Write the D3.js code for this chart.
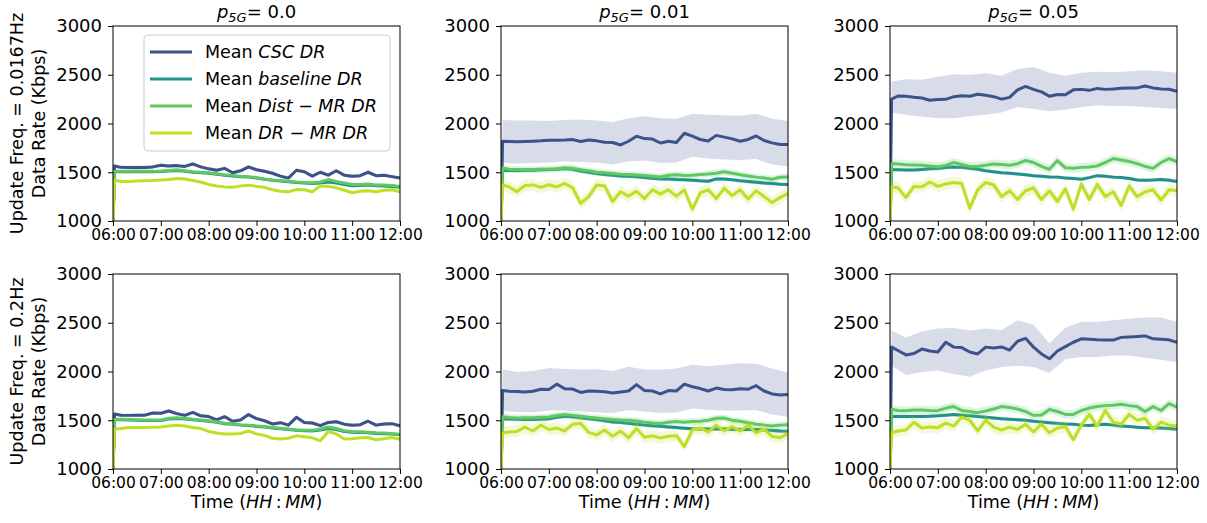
<!DOCTYPE html>
<html>
<head>
<meta charset="utf-8">
<script src="https://cdn.jsdelivr.net/npm/d3@7"></script>
<style>
body { margin: 0; background: #fff; }
text { font-family: "DejaVu Sans", sans-serif; fill: #000; }
</style>
</head>
<body>
<div id="chart"></div>
<script>
// sample times, minutes after 06:00
var minutes = [0, 2, 10, 20, 30, 40, 50, 60, 70, 80, 90, 100, 110, 120, 130, 140, 150, 160, 170, 180,
  190, 200, 210, 220, 230, 240, 250, 260, 270, 280, 290, 300, 310, 320, 330, 340, 350, 360];
// band sample times (CSC spread)
var bandMinutes = [0, 2, 20, 40, 60, 80, 100, 120, 140, 160, 180, 200, 220, 240, 260, 280, 300, 320, 340, 360];

var tickMinutes = [0, 60, 120, 180, 240, 300, 360];
var timeTicks = ["06:00", "07:00", "08:00", "09:00", "10:00", "11:00", "12:00"];
var rateTicks = [1000, 1500, 2000, 2500, 3000];
var pValues = ["0.0", "0.01", "0.05"];
var rowLabels = ["Update Freq. = 0.0167Hz", "Update Freq. = 0.2Hz"];
var seriesNames = [["Mean ", "CSC DR"], ["Mean ", "baseline DR"], ["Mean ", "Dist \u2212 MR DR"], ["Mean ", "DR \u2212 MR DR"]];
var seriesColors = ["#3b528b", "#21918c", "#5ec962", "#bddf26"];

// ---- Update freq 0.0167Hz ----
var slow_p0_csc = [1000, 1565, 1550, 1548, 1550, 1548, 1555, 1572, 1565, 1568, 1560, 1585, 1555, 1535, 1520, 1540, 1495, 1515, 1555, 1525,
  1510, 1490, 1460, 1440, 1520, 1505, 1460, 1500, 1470, 1515, 1470, 1460, 1465, 1500, 1465, 1470, 1455, 1440];
var slow_p0_base = [1000, 1505, 1505, 1505, 1508, 1505, 1505, 1508, 1512, 1518, 1510, 1500, 1495, 1490, 1480, 1470, 1462, 1455, 1450, 1440,
  1428, 1418, 1410, 1403, 1395, 1390, 1385, 1390, 1400, 1390, 1375, 1362, 1365, 1370, 1362, 1360, 1355, 1345];
var slow_p0_dist = [1000, 1510, 1510, 1510, 1512, 1510, 1510, 1512, 1518, 1525, 1515, 1505, 1500, 1495, 1485, 1475, 1468, 1460, 1455, 1445,
  1430, 1420, 1415, 1408, 1400, 1395, 1393, 1400, 1425, 1405, 1390, 1375, 1375, 1380, 1370, 1370, 1365, 1355];
var slow_p0_drmr = [1000, 1420, 1405, 1405, 1410, 1412, 1415, 1420, 1425, 1435, 1430, 1415, 1400, 1375, 1360, 1350, 1345, 1358, 1368, 1355,
  1345, 1320, 1305, 1300, 1322, 1320, 1300, 1360, 1355, 1340, 1315, 1290, 1305, 1310, 1300, 1315, 1320, 1300];

var slow_p1_csc = [1000, 1818, 1815, 1812, 1815, 1818, 1822, 1828, 1828, 1830, 1835, 1815, 1830, 1822, 1808, 1805, 1780, 1818, 1870, 1845,
  1840, 1800, 1818, 1805, 1900, 1870, 1836, 1820, 1878, 1860, 1842, 1818, 1836, 1872, 1825, 1801, 1785, 1784];
var slow_p1_csc_hi = [1000, 2035, 2030, 2030, 2025, 2035, 2040, 2030, 2015, 2055, 2075, 2055, 2050, 2100, 2090, 2085, 2080, 2100, 2050, 2025];
var slow_p1_csc_lo = [1000, 1595, 1590, 1595, 1600, 1610, 1605, 1600, 1580, 1610, 1620, 1595, 1600, 1660, 1640, 1630, 1625, 1635, 1580, 1560];
var slow_p1_base = [1000, 1517, 1518, 1518, 1520, 1520, 1525, 1528, 1532, 1538, 1530, 1512, 1500, 1488, 1478, 1468, 1462, 1460, 1455, 1445,
  1438, 1432, 1430, 1426, 1424, 1418, 1412, 1408, 1432, 1430, 1422, 1412, 1405, 1398, 1390, 1385, 1378, 1375];
var slow_p1_dist = [1000, 1545, 1530, 1528, 1527, 1527, 1530, 1530, 1535, 1545, 1540, 1525, 1515, 1500, 1495, 1488, 1480, 1476, 1472, 1466,
  1460, 1452, 1470, 1475, 1466, 1470, 1476, 1482, 1490, 1505, 1490, 1475, 1462, 1450, 1440, 1428, 1448, 1452];
var slow_p1_drmr = [1000, 1370, 1350, 1300, 1365, 1370, 1345, 1372, 1350, 1385, 1340, 1180, 1250, 1370, 1360, 1200, 1300, 1255, 1305, 1230,
  1320, 1275, 1320, 1255, 1320, 1120, 1290, 1320, 1230, 1335, 1260, 1320, 1225, 1310, 1250, 1190, 1240, 1285];

var slow_p5_csc = [1000, 2250, 2282, 2280, 2270, 2262, 2238, 2245, 2248, 2275, 2285, 2280, 2300, 2290, 2275, 2250, 2268, 2345, 2380, 2350,
  2325, 2280, 2298, 2295, 2345, 2350, 2340, 2360, 2350, 2355, 2362, 2363, 2365, 2385, 2365, 2355, 2352, 2330];
var slow_p5_csc_hi = [1000, 2430, 2455, 2450, 2480, 2505, 2500, 2515, 2490, 2560, 2580, 2520, 2490, 2520, 2530, 2525, 2535, 2545, 2535, 2520];
var slow_p5_csc_lo = [1000, 2110, 2090, 2070, 2055, 2055, 2075, 2090, 2112, 2170, 2150, 2125, 2140, 2170, 2185, 2180, 2180, 2170, 2160, 2150];
var slow_p5_base = [1000, 1525, 1525, 1524, 1522, 1528, 1535, 1540, 1548, 1555, 1550, 1540, 1530, 1515, 1505, 1495, 1490, 1482, 1475, 1465,
  1458, 1452, 1450, 1440, 1435, 1428, 1445, 1465, 1460, 1450, 1445, 1435, 1420, 1418, 1420, 1425, 1418, 1405];
var slow_p5_dist = [1000, 1590, 1585, 1578, 1575, 1572, 1565, 1556, 1570, 1600, 1580, 1560, 1560, 1572, 1585, 1580, 1572, 1588, 1620, 1600,
  1560, 1530, 1620, 1545, 1540, 1550, 1555, 1565, 1600, 1640, 1625, 1610, 1588, 1560, 1540, 1600, 1640, 1610];
var slow_p5_drmr = [1000, 1350, 1340, 1240, 1355, 1350, 1400, 1355, 1380, 1395, 1385, 1130, 1320, 1395, 1370, 1250, 1310, 1220, 1310, 1340,
  1220, 1310, 1200, 1330, 1120, 1380, 1220, 1375, 1250, 1300, 1160, 1360, 1250, 1300, 1320, 1215, 1320, 1310];

// ---- Update freq 0.2Hz ----
var fast_p0_csc = [1000, 1565, 1552, 1550, 1552, 1552, 1575, 1572, 1595, 1568, 1550, 1580, 1545, 1538, 1503, 1537, 1490, 1503, 1558, 1517,
  1495, 1462, 1475, 1450, 1530, 1476, 1472, 1445, 1478, 1485, 1460, 1449, 1455, 1490, 1450, 1462, 1465, 1442];
var fast_p0_base = [1000, 1505, 1505, 1503, 1500, 1498, 1498, 1498, 1512, 1518, 1512, 1505, 1498, 1490, 1480, 1465, 1460, 1450, 1445, 1437,
  1430, 1420, 1412, 1405, 1397, 1392, 1390, 1400, 1415, 1405, 1385, 1378, 1375, 1372, 1365, 1362, 1358, 1352];
var fast_p0_dist = [1000, 1510, 1510, 1508, 1505, 1503, 1503, 1503, 1520, 1525, 1518, 1510, 1503, 1495, 1485, 1470, 1465, 1455, 1450, 1442,
  1435, 1425, 1418, 1410, 1402, 1398, 1398, 1410, 1430, 1415, 1392, 1385, 1382, 1378, 1372, 1368, 1362, 1357];
var fast_p0_drmr = [1000, 1410, 1415, 1425, 1425, 1425, 1428, 1432, 1440, 1448, 1440, 1425, 1415, 1385, 1370, 1358, 1360, 1365, 1390, 1360,
  1345, 1315, 1308, 1315, 1340, 1330, 1320, 1290, 1385, 1360, 1308, 1310, 1320, 1322, 1300, 1310, 1322, 1305];

var fast_p1_csc = [1000, 1805, 1798, 1795, 1790, 1798, 1818, 1816, 1870, 1823, 1820, 1785, 1800, 1798, 1792, 1780, 1790, 1800, 1865, 1805,
  1800, 1770, 1805, 1800, 1870, 1844, 1825, 1800, 1830, 1815, 1812, 1823, 1818, 1855, 1800, 1770, 1758, 1765];
var fast_p1_csc_hi = [1000, 2020, 1995, 2005, 2035, 2025, 2020, 2022, 2005, 2050, 2020, 2020, 2030, 2070, 2055, 2070, 2085, 2080, 2030, 1990];
var fast_p1_csc_lo = [1000, 1595, 1585, 1582, 1600, 1600, 1590, 1582, 1575, 1605, 1590, 1575, 1580, 1620, 1608, 1600, 1600, 1605, 1560, 1535];
var fast_p1_base = [1000, 1514, 1512, 1510, 1508, 1507, 1510, 1515, 1530, 1540, 1535, 1525, 1515, 1507, 1495, 1482, 1478, 1468, 1460, 1450,
  1443, 1438, 1432, 1425, 1418, 1412, 1410, 1410, 1412, 1410, 1408, 1405, 1405, 1404, 1400, 1395, 1390, 1387];
var fast_p1_dist = [1000, 1535, 1528, 1524, 1525, 1525, 1530, 1534, 1548, 1558, 1550, 1540, 1530, 1524, 1515, 1508, 1502, 1500, 1492, 1480,
  1472, 1466, 1480, 1488, 1480, 1488, 1490, 1500, 1520, 1522, 1500, 1490, 1475, 1460, 1450, 1440, 1450, 1455];
var fast_p1_drmr = [1000, 1370, 1380, 1385, 1430, 1390, 1450, 1405, 1420, 1390, 1460, 1470, 1375, 1350, 1400, 1335, 1390, 1320, 1415, 1325,
  1340, 1318, 1335, 1342, 1230, 1400, 1420, 1380, 1450, 1390, 1435, 1390, 1450, 1370, 1410, 1335, 1320, 1365];

var fast_p5_csc = [1000, 2250, 2215, 2170, 2185, 2230, 2210, 2200, 2300, 2250, 2245, 2200, 2180, 2250, 2240, 2252, 2220, 2310, 2340, 2250,
  2180, 2130, 2210, 2255, 2300, 2335, 2330, 2325, 2322, 2322, 2350, 2355, 2358, 2365, 2335, 2330, 2325, 2300];
var fast_p5_csc_hi = [1000, 2420, 2350, 2410, 2440, 2445, 2420, 2440, 2425, 2525, 2480, 2290, 2450, 2510, 2510, 2525, 2540, 2555, 2555, 2510];
var fast_p5_csc_lo = [1000, 2060, 1965, 1995, 2010, 1975, 1945, 2010, 2045, 2060, 2045, 1985, 2125, 2148, 2150, 2165, 2165, 2140, 2120, 2095];
var fast_p5_base = [1000, 1538, 1538, 1538, 1538, 1538, 1540, 1545, 1552, 1560, 1552, 1545, 1538, 1530, 1522, 1515, 1510, 1505, 1500, 1490,
  1483, 1475, 1468, 1462, 1458, 1450, 1445, 1455, 1458, 1450, 1442, 1435, 1428, 1424, 1424, 1420, 1415, 1407];
var fast_p5_dist = [1000, 1612, 1600, 1598, 1605, 1605, 1600, 1598, 1625, 1640, 1600, 1590, 1578, 1595, 1615, 1640, 1630, 1615, 1590, 1550,
  1555, 1610, 1590, 1560, 1560, 1600, 1625, 1640, 1650, 1655, 1665, 1650, 1640, 1590, 1640, 1600, 1670, 1635];
var fast_p5_drmr = [1000, 1372, 1390, 1400, 1480, 1420, 1430, 1424, 1470, 1440, 1530, 1500, 1390, 1500, 1430, 1400, 1430, 1405, 1460, 1380,
  1460, 1372, 1420, 1435, 1300, 1450, 1560, 1441, 1600, 1480, 1460, 1560, 1500, 1520, 1410, 1480, 1450, 1441];

// half width of the light bands [csc, baseline, dist-mr, dr-mr]
var spread_p0 = [18, 8, 8, 8];
var spread_p1 = [0, 20, 35, 60];
var spread_p5 = [0, 18, 45, 60];

var panels = [
  { row: 0, col: 0, lines: [slow_p0_csc, slow_p0_base, slow_p0_dist, slow_p0_drmr], hi: null, lo: null, spread: spread_p0 },
  { row: 0, col: 1, lines: [slow_p1_csc, slow_p1_base, slow_p1_dist, slow_p1_drmr], hi: slow_p1_csc_hi, lo: slow_p1_csc_lo, spread: spread_p1 },
  { row: 0, col: 2, lines: [slow_p5_csc, slow_p5_base, slow_p5_dist, slow_p5_drmr], hi: slow_p5_csc_hi, lo: slow_p5_csc_lo, spread: spread_p5 },
  { row: 1, col: 0, lines: [fast_p0_csc, fast_p0_base, fast_p0_dist, fast_p0_drmr], hi: null, lo: null, spread: spread_p0 },
  { row: 1, col: 1, lines: [fast_p1_csc, fast_p1_base, fast_p1_dist, fast_p1_drmr], hi: fast_p1_csc_hi, lo: fast_p1_csc_lo, spread: spread_p1 },
  { row: 1, col: 2, lines: [fast_p5_csc, fast_p5_base, fast_p5_dist, fast_p5_drmr], hi: fast_p5_csc_hi, lo: fast_p5_csc_lo, spread: spread_p5 }
];

var W = 1207, H = 523;
var colLeft = [113, 501, 890], rowTop = [26, 274];
var pw = 287, ph = 195;

var svg = d3.select("#chart").append("svg")
  .attr("width", W)
  .attr("height", H);

var x = d3.scaleLinear().domain([0, 360]).range([0, pw]);
var y = d3.scaleLinear().domain([1000, 3000]).range([ph, 0]);

var line = d3.line()
  .x(function (d) { return x(d[0]); })
  .y(function (d) { return y(d[1]); });
var area = d3.area()
  .x(function (d) { return x(d[0]); })
  .y0(function (d) { return y(d[1]); })
  .y1(function (d) { return y(d[2]); });

panels.forEach(function (p, k) {
  var g = svg.append("g")
    .attr("transform", "translate(" + colLeft[p.col] + "," + rowTop[p.row] + ")");

  g.append("clipPath").attr("id", "clip" + k)
    .append("rect").attr("width", pw).attr("height", ph);
  var plot = g.append("g").attr("clip-path", "url(#clip" + k + ")");

  p.lines.forEach(function (vals, s) {
    var band;
    if (s === 0 && p.hi) {
      band = bandMinutes.map(function (m, i) { return [m, p.lo[i], p.hi[i]]; });
    } else {
      band = minutes.map(function (m, i) { return [m, vals[i] - p.spread[s], vals[i] + p.spread[s]]; });
    }
    plot.append("path")
      .attr("d", area(band))
      .style("fill", seriesColors[s])
      .style("fill-opacity", 0.2)
      .style("stroke", "none");
    plot.append("path")
      .attr("d", line(minutes.map(function (m, i) { return [m, vals[i]]; })))
      .style("fill", "none")
      .style("stroke", seriesColors[s])
      .style("stroke-width", 3)
      .style("stroke-linejoin", "round");
  });

  var xa = g.append("g")
    .attr("transform", "translate(0," + ph + ")")
    .call(d3.axisBottom(x).tickValues(tickMinutes)
      .tickFormat(function (d, i) { return timeTicks[i]; })
      .tickSize(5).tickPadding(3));
  xa.selectAll("text").style("font-size", "15.5px").style("font-family", "DejaVu Sans");

  var ya = g.append("g")
    .call(d3.axisLeft(y).tickValues(rateTicks).tickFormat(d3.format("d"))
      .tickSize(5).tickPadding(6));
  ya.selectAll("text").style("font-size", "18px").style("font-family", "DejaVu Sans");

  g.selectAll(".domain").remove();
  g.selectAll(".tick line").style("stroke", "#000");

  g.append("rect")
    .attr("width", pw).attr("height", ph)
    .style("fill", "none").style("stroke", "#000").style("stroke-width", 1);

  if (p.row === 0) {
    var t = g.append("text")
      .attr("x", pw / 2).attr("y", -8)
      .attr("text-anchor", "middle")
      .style("font-size", "18px");
    t.append("tspan").style("font-style", "italic").text("p");
    t.append("tspan").style("font-style", "italic").style("font-size", "13px")
      .attr("dy", 4).text("5G");
    t.append("tspan").attr("dy", -4).text("= " + pValues[p.col]);
  } else {
    var xl = g.append("text")
      .attr("x", pw / 2).attr("y", ph + 39)
      .attr("text-anchor", "middle")
      .style("font-size", "17.5px");
    xl.append("tspan").text("Time (");
    xl.append("tspan").style("font-style", "italic").text("HH");
    xl.append("tspan").text("\u2009:\u2009");
    xl.append("tspan").style("font-style", "italic").text("MM");
    xl.append("tspan").text(")");
  }

  if (p.col === 0) {
    var yl = g.append("text")
      .attr("transform", "translate(-90," + (ph / 2) + ") rotate(-90)")
      .attr("text-anchor", "middle")
      .style("font-size", "17.5px");
    yl.append("tspan").attr("x", 0).attr("y", 0).text(rowLabels[p.row]);
    yl.append("tspan").attr("x", 0).attr("y", 22).text("Data Rate (Kbps)");
  }

  if (k === 0) {
    var lg = g.append("g").attr("transform", "translate(31,9)");
    lg.append("rect")
      .attr("width", 246).attr("height", 116)
      .attr("rx", 4)
      .style("fill", "#fff").style("fill-opacity", 0.8)
      .style("stroke", "#cccccc");
    seriesNames.forEach(function (nm, s) {
      var yy = 17 + s * 27;
      lg.append("line")
        .attr("x1", 6).attr("x2", 48).attr("y1", yy).attr("y2", yy)
        .style("stroke", seriesColors[s]).style("stroke-width", 3);
      var lt = lg.append("text")
        .attr("x", 61).attr("y", yy + 6)
        .style("font-size", "17.5px");
      lt.append("tspan").text(nm[0]);
      lt.append("tspan").style("font-style", "italic").text(nm[1]);
    });
  }
});
</script>
</body>
</html>
